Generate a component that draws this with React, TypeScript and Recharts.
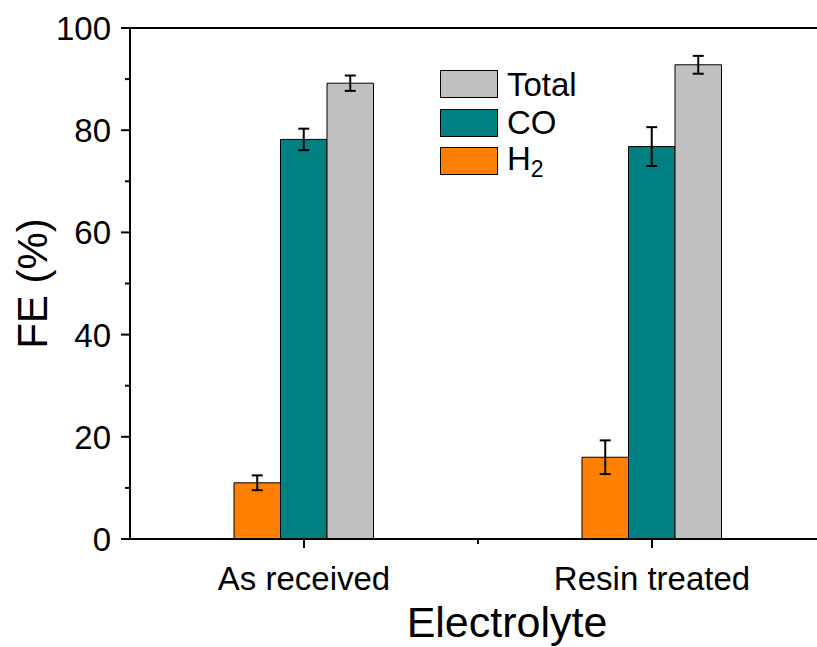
import React from 'react';
import { BarChart, Bar, XAxis, YAxis, ErrorBar, Legend, ReferenceLine } from 'recharts';

const categories = ['As received', 'Resin treated'];
const h2Values = [11.0, 16.0];
const h2Errors = [1.45, 3.3];
const coValues = [78.2, 76.8];
const coErrors = [2.1, 3.8];
const totalValues = [89.2, 92.8];
const totalErrors = [1.5, 1.75];
const yTicks = [0, 10, 20, 30, 40, 50, 60, 70, 80, 90, 100];
const yMajorTicks = [0, 20, 40, 60, 80, 100];
const legendOrder = ['Total', 'CO', 'H2'];

const data = categories.map((c, i) => ({
  category: c,
  h2: h2Values[i],
  h2Err: h2Errors[i],
  co: coValues[i],
  coErr: coErrors[i],
  total: totalValues[i],
  totalErr: totalErrors[i],
}));

const FONT = '"Liberation Sans", Arial, Helvetica, sans-serif';
const TICK_SIZE = 9;
const TICK_MARGIN = 10;
const TICK_FONT = 33;

const YTick = (props: any) => {
  const { x, y, payload } = props;
  const axisX = x + TICK_SIZE + TICK_MARGIN;
  const major = yMajorTicks.includes(payload.value);
  return (
    <g>
      <line x1={axisX} x2={axisX - (major ? 9 : 5)} y1={y} y2={y} stroke="#000" strokeWidth={2} />
      {major && (
        <text x={x} y={y} dy={12} textAnchor="end" fontSize={TICK_FONT} fontFamily={FONT} fill="#000">
          {payload.value}
        </text>
      )}
    </g>
  );
};

const XTick = (props: any) => {
  const { x, y, payload } = props;
  const axisY = y - TICK_SIZE - TICK_MARGIN;
  const half = payload.offset ?? 0;
  return (
    <g>
      <line x1={x} x2={x} y1={axisY} y2={axisY + 9} stroke="#000" strokeWidth={2} />
      <line x1={x + half} x2={x + half} y1={axisY} y2={axisY + 5} stroke="#000" strokeWidth={2} />
      <text x={x} y={axisY + 51} textAnchor="middle" fontSize={TICK_FONT} fontFamily={FONT} fill="#000">
        {payload.value}
      </text>
    </g>
  );
};

const XLabel = (props: any) => {
  const { viewBox } = props;
  const cx = viewBox.x + viewBox.width / 2 + 29;
  const by = viewBox.y + viewBox.height - 10;
  return (
    <text x={cx} y={by} textAnchor="middle" fontSize={43} fontFamily={FONT} fill="#000">
      Electrolyte
    </text>
  );
};

const YLabel = (props: any) => {
  const { viewBox } = props;
  const bx = viewBox.x + 47;
  const cy = viewBox.y + viewBox.height / 2;
  return (
    <text
      x={bx}
      y={cy}
      textAnchor="middle"
      fontSize={42}
      fontFamily={FONT}
      fill="#000"
      transform={`rotate(-90, ${bx}, ${cy})`}
    >
      FE (%)
    </text>
  );
};

const LegendContent = (props: any) => {
  const payload = props.payload || [];
  const items = legendOrder
    .map((name) => payload.find((p: any) => p.value === name))
    .filter(Boolean);
  return (
    <div style={{ fontFamily: FONT, fontSize: 33, color: '#000', textAlign: 'left' }}>
      {items.map((it: any) => (
        <div key={it.value} style={{ display: 'flex', alignItems: 'center', height: 38.5 }}>
          <div
            style={{
              width: 58,
              height: 28,
              boxSizing: 'border-box',
              border: '1px solid #000',
              background: it.color,
            }}
          />
          <span style={{ marginLeft: 9, lineHeight: 1 }}>
            {it.value === 'H2' ? (
              <>
                H<sub style={{ fontSize: 23, verticalAlign: '-7px' }}>2</sub>
              </>
            ) : (
              it.value
            )}
          </span>
        </div>
      ))}
    </div>
  );
};

export default function App() {
  return (
    <div
      style={{
        position: 'absolute',
        left: 0,
        top: 0,
        width: 817,
        height: 647,
        overflow: 'hidden',
        background: '#fff',
      }}
    >
      <BarChart
        width={840}
        height={647}
        data={data}
        margin={{ top: 28, right: 14, bottom: 0, left: 0 }}
        barGap={0}
        barSize={46.5}
      >
        <XAxis
          dataKey="category"
          height={108}
          axisLine={{ stroke: '#000', strokeWidth: 2 }}
          tickLine={false}
          tickSize={TICK_SIZE}
          tickMargin={TICK_MARGIN}
          tick={<XTick />}
          interval={0}
          label={<XLabel />}
        />
        <YAxis
          type="number"
          domain={[0, 100]}
          ticks={yTicks}
          width={130}
          interval={0}
          axisLine={{ stroke: '#000', strokeWidth: 2 }}
          tickLine={false}
          tickSize={TICK_SIZE}
          tickMargin={TICK_MARGIN}
          tick={<YTick />}
          label={<YLabel />}
        />
        <ReferenceLine y={100} stroke="#000" strokeWidth={2} />
        <Legend
          layout="horizontal"
          align="center"
          verticalAlign="middle"
          content={<LegendContent />}
          wrapperStyle={{ left: 440, top: 64.75, width: 'auto' }}
        />
        <Bar dataKey="h2" name="H2" fill="#FF8000" stroke="#000" strokeWidth={1} isAnimationActive={false}>
          <ErrorBar dataKey="h2Err" width={5.5} strokeWidth={2} stroke="#000" direction="y" />
        </Bar>
        <Bar dataKey="co" name="CO" fill="#008080" stroke="#000" strokeWidth={1} isAnimationActive={false}>
          <ErrorBar dataKey="coErr" width={5.5} strokeWidth={2} stroke="#000" direction="y" />
        </Bar>
        <Bar dataKey="total" name="Total" fill="#C0C0C0" stroke="#000" strokeWidth={1} isAnimationActive={false}>
          <ErrorBar dataKey="totalErr" width={5.5} strokeWidth={2} stroke="#000" direction="y" />
        </Bar>
      </BarChart>
    </div>
  );
}
